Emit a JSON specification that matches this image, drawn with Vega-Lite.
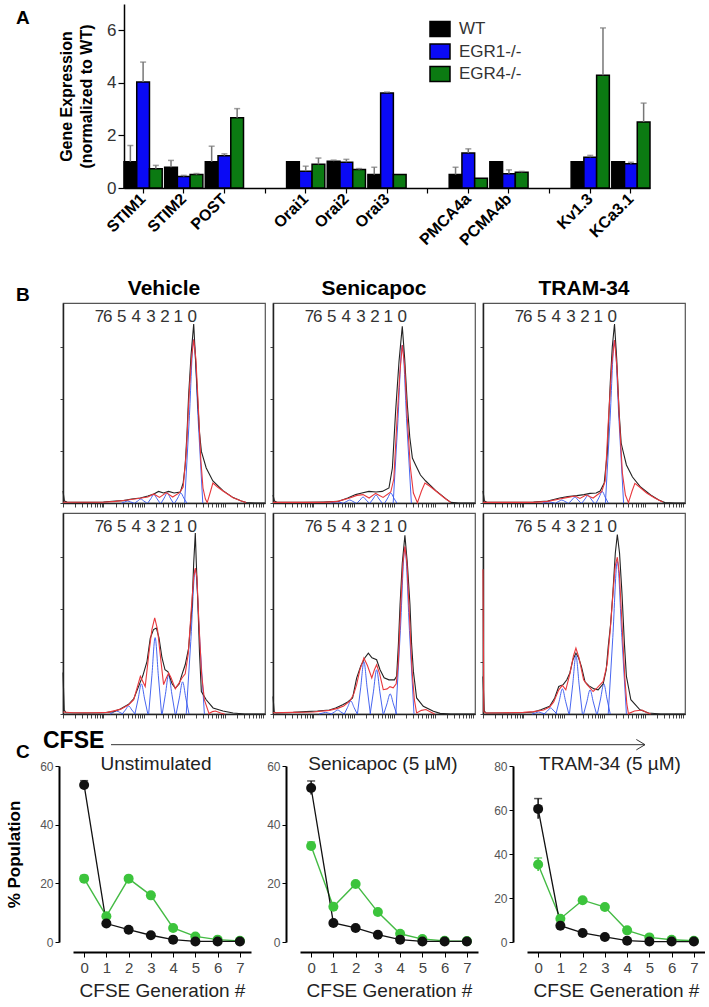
{
"$schema":"https://vega.github.io/schema/vega-lite/v6.json",
"background":"white",
"padding":{"left":5,"top":4,"right":0,"bottom":0},
"autosize":{"type":"pad"},
"spacing":0,
"bounds":"flush",
"config":{"font":"Liberation Sans","view":{"stroke":null},"axis":{"labelFont":"Liberation Sans","titleFont":"Liberation Sans"},"title":{"font":"Liberation Sans"}},
"datasets":{
"expr":[
{"gene":"STIM1","grp":"WT","v":1.0,"e":1.62},{"gene":"STIM1","grp":"EGR1-/-","v":4.03,"e":4.79},{"gene":"STIM1","grp":"EGR4-/-","v":0.73,"e":0.86},
{"gene":"STIM2","grp":"WT","v":0.79,"e":1.05},{"gene":"STIM2","grp":"EGR1-/-","v":0.44,"e":0.48},{"gene":"STIM2","grp":"EGR4-/-","v":0.51,"e":0.55},
{"gene":"POST","grp":"WT","v":1.0,"e":1.59},{"gene":"POST","grp":"EGR1-/-","v":1.23,"e":1.3},{"gene":"POST","grp":"EGR4-/-","v":2.67,"e":3.02},
{"gene":"Orai1","grp":"WT","v":1.0},{"gene":"Orai1","grp":"EGR1-/-","v":0.64,"e":0.83},{"gene":"Orai1","grp":"EGR4-/-","v":0.9,"e":1.14},
{"gene":"Orai2","grp":"WT","v":1.02,"e":1.06},{"gene":"Orai2","grp":"EGR1-/-","v":0.98,"e":1.09},{"gene":"Orai2","grp":"EGR4-/-","v":0.7,"e":0.74},
{"gene":"Orai3","grp":"WT","v":0.51,"e":0.79},{"gene":"Orai3","grp":"EGR1-/-","v":3.61,"e":3.65},{"gene":"Orai3","grp":"EGR4-/-","v":0.51},
{"gene":"PMCA4a","grp":"WT","v":0.51,"e":0.79},{"gene":"PMCA4a","grp":"EGR1-/-","v":1.33,"e":1.49},{"gene":"PMCA4a","grp":"EGR4-/-","v":0.37},
{"gene":"PCMA4b","grp":"WT","v":1.0},{"gene":"PCMA4b","grp":"EGR1-/-","v":0.54,"e":0.69},{"gene":"PCMA4b","grp":"EGR4-/-","v":0.6,"e":0.63},
{"gene":"Kv1.3","grp":"WT","v":1.0},{"gene":"Kv1.3","grp":"EGR1-/-","v":1.17,"e":1.24},{"gene":"Kv1.3","grp":"EGR4-/-","v":4.29,"e":6.09},
{"gene":"KCa3.1","grp":"WT","v":1.0},{"gene":"KCa3.1","grp":"EGR1-/-","v":0.92,"e":0.98},{"gene":"KCa3.1","grp":"EGR4-/-","v":2.51,"e":3.23}
],
"gens":[{"g":"7","x":18},{"g":"6","x":22.2},{"g":"5","x":29.1},{"g":"4","x":36.2},{"g":"3","x":43.5},{"g":"2","x":50.5},{"g":"1","x":57},{"g":"0","x":64}],
"hist":[
{"p":"V1","c":"k","x":0,"y":6},{"p":"V1","c":"k","x":0.7,"y":1},{"p":"V1","c":"k","x":2,"y":0.5},{"p":"V1","c":"k","x":10,"y":0.3},{"p":"V1","c":"k","x":20,"y":0.5},{"p":"V1","c":"k","x":26,"y":1},{"p":"V1","c":"k","x":30,"y":1.2},{"p":"V1","c":"k","x":34,"y":2},{"p":"V1","c":"k","x":38.3,"y":2.5},{"p":"V1","c":"k","x":42,"y":3.5},{"p":"V1","c":"k","x":45,"y":4.5},{"p":"V1","c":"k","x":47.3,"y":5.8},{"p":"V1","c":"k","x":49.8,"y":5},{"p":"V1","c":"k","x":52.3,"y":5.8},{"p":"V1","c":"k","x":55,"y":5},{"p":"V1","c":"k","x":58.1,"y":5.5},{"p":"V1","c":"k","x":59.5,"y":10},{"p":"V1","c":"k","x":60.5,"y":19},{"p":"V1","c":"k","x":61.4,"y":35},{"p":"V1","c":"k","x":62.2,"y":54},{"p":"V1","c":"k","x":63.4,"y":74},{"p":"V1","c":"k","x":64.7,"y":89.5},{"p":"V1","c":"k","x":65.6,"y":72},{"p":"V1","c":"k","x":66.8,"y":49},{"p":"V1","c":"k","x":67.6,"y":35},{"p":"V1","c":"k","x":68.5,"y":25.8},{"p":"V1","c":"k","x":70.9,"y":17.5},{"p":"V1","c":"k","x":74.2,"y":11},{"p":"V1","c":"k","x":79.2,"y":6.2},{"p":"V1","c":"k","x":84.2,"y":2.7},{"p":"V1","c":"k","x":88.3,"y":1},{"p":"V1","c":"k","x":90.7,"y":0.2},{"p":"V1","c":"k","x":95,"y":0},{"p":"V1","c":"k","x":100,"y":0},
{"p":"V1","c":"r","x":0,"y":0.4},{"p":"V1","c":"r","x":20,"y":0.4},{"p":"V1","c":"r","x":26,"y":0.8},{"p":"V1","c":"r","x":32,"y":1.5},{"p":"V1","c":"r","x":38,"y":2.4},{"p":"V1","c":"r","x":42,"y":3},{"p":"V1","c":"r","x":44.9,"y":4.5},{"p":"V1","c":"r","x":47.8,"y":2.8},{"p":"V1","c":"r","x":51.1,"y":5.2},{"p":"V1","c":"r","x":54.3,"y":3},{"p":"V1","c":"r","x":57.7,"y":5.2},{"p":"V1","c":"r","x":59.5,"y":8},{"p":"V1","c":"r","x":61,"y":25},{"p":"V1","c":"r","x":62.5,"y":55},{"p":"V1","c":"r","x":63.6,"y":72},{"p":"V1","c":"r","x":64.7,"y":81.7},{"p":"V1","c":"r","x":65.8,"y":72},{"p":"V1","c":"r","x":67,"y":48},{"p":"V1","c":"r","x":68.2,"y":22},{"p":"V1","c":"r","x":69.3,"y":7.5},{"p":"V1","c":"r","x":70.5,"y":2},{"p":"V1","c":"r","x":71.4,"y":0.2},{"p":"V1","c":"r","x":72.8,"y":5},{"p":"V1","c":"r","x":74.2,"y":10},{"p":"V1","c":"r","x":76.5,"y":8},{"p":"V1","c":"r","x":79.2,"y":6},{"p":"V1","c":"r","x":84.2,"y":2.6},{"p":"V1","c":"r","x":88.3,"y":1},{"p":"V1","c":"r","x":90.7,"y":0.2},
{"p":"V1","c":"b0","x":60.2,"y":0},{"p":"V1","c":"b0","x":62.45,"y":40.9},{"p":"V1","c":"b0","x":64.7,"y":81.7},{"p":"V1","c":"b0","x":66.95,"y":40.9},{"p":"V1","c":"b0","x":69.2,"y":0},
{"p":"V1","c":"b1","x":55.3,"y":0},{"p":"V1","c":"b1","x":56.8,"y":2.5},{"p":"V1","c":"b1","x":58.3,"y":5},{"p":"V1","c":"b1","x":59.8,"y":2.5},{"p":"V1","c":"b1","x":61.3,"y":0},
{"p":"V1","c":"b2","x":48.6,"y":0},{"p":"V1","c":"b2","x":50.1,"y":2.5},{"p":"V1","c":"b2","x":51.6,"y":5},{"p":"V1","c":"b2","x":53.1,"y":2.5},{"p":"V1","c":"b2","x":54.6,"y":0},
{"p":"V1","c":"b3","x":42,"y":0},{"p":"V1","c":"b3","x":43.5,"y":2.2},{"p":"V1","c":"b3","x":45,"y":4.3},{"p":"V1","c":"b3","x":46.5,"y":2.2},{"p":"V1","c":"b3","x":48,"y":0},
{"p":"V1","c":"b4","x":35.5,"y":0},{"p":"V1","c":"b4","x":37,"y":1},{"p":"V1","c":"b4","x":38.5,"y":2},{"p":"V1","c":"b4","x":40,"y":1},{"p":"V1","c":"b4","x":41.5,"y":0},
{"p":"V1","c":"b5","x":29,"y":0},{"p":"V1","c":"b5","x":30.5,"y":0.5},{"p":"V1","c":"b5","x":32,"y":1},{"p":"V1","c":"b5","x":33.5,"y":0.5},{"p":"V1","c":"b5","x":35,"y":0},

{"p":"S1","c":"k","x":0,"y":4},{"p":"S1","c":"k","x":0.7,"y":1},{"p":"S1","c":"k","x":2,"y":0.4},{"p":"S1","c":"k","x":15,"y":0.3},{"p":"S1","c":"k","x":25,"y":0.5},{"p":"S1","c":"k","x":32.2,"y":0.8},{"p":"S1","c":"k","x":37,"y":2.5},{"p":"S1","c":"k","x":40.9,"y":4.2},{"p":"S1","c":"k","x":44,"y":5},{"p":"S1","c":"k","x":47.5,"y":5.8},{"p":"S1","c":"k","x":51,"y":5.5},{"p":"S1","c":"k","x":54.1,"y":5.8},{"p":"S1","c":"k","x":57.4,"y":7.5},{"p":"S1","c":"k","x":59.1,"y":17.5},{"p":"S1","c":"k","x":60.7,"y":45.8},{"p":"S1","c":"k","x":62.4,"y":71},{"p":"S1","c":"k","x":64,"y":88.3},{"p":"S1","c":"k","x":65.2,"y":72},{"p":"S1","c":"k","x":66.5,"y":49},{"p":"S1","c":"k","x":67.7,"y":33},{"p":"S1","c":"k","x":69,"y":22.5},{"p":"S1","c":"k","x":70.6,"y":19},{"p":"S1","c":"k","x":73,"y":14},{"p":"S1","c":"k","x":75.6,"y":11},{"p":"S1","c":"k","x":80.6,"y":6.2},{"p":"S1","c":"k","x":85.5,"y":2.2},{"p":"S1","c":"k","x":88,"y":0.3},{"p":"S1","c":"k","x":92,"y":0},{"p":"S1","c":"k","x":100,"y":0},
{"p":"S1","c":"r","x":0,"y":0.3},{"p":"S1","c":"r","x":25,"y":0.3},{"p":"S1","c":"r","x":32,"y":0.8},{"p":"S1","c":"r","x":38,"y":2.5},{"p":"S1","c":"r","x":41.5,"y":3.8},{"p":"S1","c":"r","x":44.6,"y":4.2},{"p":"S1","c":"r","x":47.6,"y":2.5},{"p":"S1","c":"r","x":50.8,"y":4.8},{"p":"S1","c":"r","x":54.5,"y":2.8},{"p":"S1","c":"r","x":58.3,"y":5.5},{"p":"S1","c":"r","x":59.8,"y":12},{"p":"S1","c":"r","x":61.3,"y":40},{"p":"S1","c":"r","x":62.8,"y":65},{"p":"S1","c":"r","x":64,"y":79},{"p":"S1","c":"r","x":65.2,"y":68},{"p":"S1","c":"r","x":66.5,"y":42},{"p":"S1","c":"r","x":68,"y":18},{"p":"S1","c":"r","x":69.5,"y":5},{"p":"S1","c":"r","x":71.5,"y":0.2},{"p":"S1","c":"r","x":73.5,"y":6},{"p":"S1","c":"r","x":75.2,"y":10},{"p":"S1","c":"r","x":77.5,"y":8.5},{"p":"S1","c":"r","x":80.6,"y":6},{"p":"S1","c":"r","x":85.5,"y":2},{"p":"S1","c":"r","x":88,"y":0.3},
{"p":"S1","c":"b0","x":59.5,"y":0},{"p":"S1","c":"b0","x":61.75,"y":39.5},{"p":"S1","c":"b0","x":64,"y":79},{"p":"S1","c":"b0","x":66.25,"y":39.5},{"p":"S1","c":"b0","x":68.5,"y":0},
{"p":"S1","c":"b1","x":55.3,"y":0},{"p":"S1","c":"b1","x":56.8,"y":2.5},{"p":"S1","c":"b1","x":58.3,"y":5},{"p":"S1","c":"b1","x":59.8,"y":2.5},{"p":"S1","c":"b1","x":61.3,"y":0},
{"p":"S1","c":"b2","x":48,"y":0},{"p":"S1","c":"b2","x":49.5,"y":2},{"p":"S1","c":"b2","x":51,"y":4},{"p":"S1","c":"b2","x":52.5,"y":2},{"p":"S1","c":"b2","x":54,"y":0},
{"p":"S1","c":"b3","x":41.6,"y":0},{"p":"S1","c":"b3","x":43.1,"y":1.5},{"p":"S1","c":"b3","x":44.6,"y":3},{"p":"S1","c":"b3","x":46.1,"y":1.5},{"p":"S1","c":"b3","x":47.6,"y":0},
{"p":"S1","c":"b4","x":35,"y":0},{"p":"S1","c":"b4","x":36.5,"y":0.8},{"p":"S1","c":"b4","x":38,"y":1.5},{"p":"S1","c":"b4","x":39.5,"y":0.8},{"p":"S1","c":"b4","x":41,"y":0},
{"p":"S1","c":"b5","x":28.5,"y":0},{"p":"S1","c":"b5","x":30,"y":0.3},{"p":"S1","c":"b5","x":31.5,"y":0.6},{"p":"S1","c":"b5","x":33,"y":0.3},{"p":"S1","c":"b5","x":34.5,"y":0},

{"p":"T1","c":"k","x":0,"y":6},{"p":"T1","c":"k","x":0.7,"y":1},{"p":"T1","c":"k","x":2,"y":0.4},{"p":"T1","c":"k","x":15,"y":0.3},{"p":"T1","c":"k","x":25,"y":0.5},{"p":"T1","c":"k","x":32,"y":1},{"p":"T1","c":"k","x":38,"y":2.5},{"p":"T1","c":"k","x":42,"y":3.2},{"p":"T1","c":"k","x":46.5,"y":3.7},{"p":"T1","c":"k","x":50,"y":4.2},{"p":"T1","c":"k","x":53,"y":4.8},{"p":"T1","c":"k","x":56,"y":5},{"p":"T1","c":"k","x":58,"y":6},{"p":"T1","c":"k","x":60,"y":10},{"p":"T1","c":"k","x":61.5,"y":25},{"p":"T1","c":"k","x":63,"y":60},{"p":"T1","c":"k","x":64,"y":78},{"p":"T1","c":"k","x":65.1,"y":89.5},{"p":"T1","c":"k","x":66.2,"y":72},{"p":"T1","c":"k","x":67.4,"y":45},{"p":"T1","c":"k","x":68.4,"y":30},{"p":"T1","c":"k","x":69.2,"y":26.5},{"p":"T1","c":"k","x":71,"y":19},{"p":"T1","c":"k","x":74,"y":13},{"p":"T1","c":"k","x":78,"y":8},{"p":"T1","c":"k","x":83,"y":4},{"p":"T1","c":"k","x":87,"y":1.5},{"p":"T1","c":"k","x":90,"y":0.2},{"p":"T1","c":"k","x":95,"y":0},{"p":"T1","c":"k","x":100,"y":0},
{"p":"T1","c":"r","x":0,"y":0.3},{"p":"T1","c":"r","x":25,"y":0.3},{"p":"T1","c":"r","x":32,"y":0.8},{"p":"T1","c":"r","x":38,"y":2},{"p":"T1","c":"r","x":42,"y":2.8},{"p":"T1","c":"r","x":45.5,"y":3.5},{"p":"T1","c":"r","x":48,"y":2.3},{"p":"T1","c":"r","x":51,"y":4},{"p":"T1","c":"r","x":54.5,"y":2.5},{"p":"T1","c":"r","x":58.8,"y":5.8},{"p":"T1","c":"r","x":60.5,"y":11},{"p":"T1","c":"r","x":62,"y":40},{"p":"T1","c":"r","x":63.8,"y":70},{"p":"T1","c":"r","x":65.1,"y":81.5},{"p":"T1","c":"r","x":66.3,"y":68},{"p":"T1","c":"r","x":67.6,"y":40},{"p":"T1","c":"r","x":69,"y":15},{"p":"T1","c":"r","x":70.5,"y":4},{"p":"T1","c":"r","x":72,"y":0.2},{"p":"T1","c":"r","x":73.8,"y":6},{"p":"T1","c":"r","x":75.2,"y":9.8},{"p":"T1","c":"r","x":77.5,"y":8},{"p":"T1","c":"r","x":81,"y":5},{"p":"T1","c":"r","x":85,"y":2.5},{"p":"T1","c":"r","x":89,"y":0.5},
{"p":"T1","c":"b0","x":60.6,"y":0},{"p":"T1","c":"b0","x":62.85,"y":40.8},{"p":"T1","c":"b0","x":65.1,"y":81.5},{"p":"T1","c":"b0","x":67.35,"y":40.8},{"p":"T1","c":"b0","x":69.6,"y":0},
{"p":"T1","c":"b1","x":56,"y":0},{"p":"T1","c":"b1","x":57.5,"y":2.9},{"p":"T1","c":"b1","x":59,"y":5.8},{"p":"T1","c":"b1","x":60.5,"y":2.9},{"p":"T1","c":"b1","x":62,"y":0},
{"p":"T1","c":"b2","x":49,"y":0},{"p":"T1","c":"b2","x":50.5,"y":2},{"p":"T1","c":"b2","x":52,"y":4},{"p":"T1","c":"b2","x":53.5,"y":2},{"p":"T1","c":"b2","x":55,"y":0},
{"p":"T1","c":"b3","x":42.5,"y":0},{"p":"T1","c":"b3","x":44,"y":1.5},{"p":"T1","c":"b3","x":45.5,"y":3},{"p":"T1","c":"b3","x":47,"y":1.5},{"p":"T1","c":"b3","x":48.5,"y":0},
{"p":"T1","c":"b4","x":36,"y":0},{"p":"T1","c":"b4","x":37.5,"y":0.8},{"p":"T1","c":"b4","x":39,"y":1.5},{"p":"T1","c":"b4","x":40.5,"y":0.8},{"p":"T1","c":"b4","x":42,"y":0},
{"p":"T1","c":"b5","x":29.5,"y":0},{"p":"T1","c":"b5","x":31,"y":0.3},{"p":"T1","c":"b5","x":32.5,"y":0.6},{"p":"T1","c":"b5","x":34,"y":0.3},{"p":"T1","c":"b5","x":35.5,"y":0},

{"p":"V2","c":"k","x":0,"y":20.6},{"p":"V2","c":"k","x":0.6,"y":2},{"p":"V2","c":"k","x":1.5,"y":0.6},{"p":"V2","c":"k","x":10,"y":0.5},{"p":"V2","c":"k","x":20,"y":0.6},{"p":"V2","c":"k","x":25,"y":1.2},{"p":"V2","c":"k","x":28.4,"y":2.5},{"p":"V2","c":"k","x":32.5,"y":4.8},{"p":"V2","c":"k","x":35,"y":7.5},{"p":"V2","c":"k","x":38.3,"y":16},{"p":"V2","c":"k","x":39.5,"y":19},{"p":"V2","c":"k","x":41.6,"y":26.2},{"p":"V2","c":"k","x":43.2,"y":37.8},{"p":"V2","c":"k","x":44.8,"y":42},{"p":"V2","c":"k","x":46.2,"y":42.8},{"p":"V2","c":"k","x":47.5,"y":38},{"p":"V2","c":"k","x":49,"y":28},{"p":"V2","c":"k","x":50.5,"y":22},{"p":"V2","c":"k","x":52,"y":21},{"p":"V2","c":"k","x":54,"y":15},{"p":"V2","c":"k","x":55.6,"y":12.9},{"p":"V2","c":"k","x":57.5,"y":15},{"p":"V2","c":"k","x":59,"y":20},{"p":"V2","c":"k","x":60.5,"y":24.5},{"p":"V2","c":"k","x":62.2,"y":32.8},{"p":"V2","c":"k","x":63.9,"y":54.4},{"p":"V2","c":"k","x":64.7,"y":75},{"p":"V2","c":"k","x":65.5,"y":90},{"p":"V2","c":"k","x":66,"y":75},{"p":"V2","c":"k","x":66.8,"y":54.4},{"p":"V2","c":"k","x":67.6,"y":30},{"p":"V2","c":"k","x":68.5,"y":11.2},{"p":"V2","c":"k","x":70.9,"y":7.1},{"p":"V2","c":"k","x":74.3,"y":3},{"p":"V2","c":"k","x":79.2,"y":1.5},{"p":"V2","c":"k","x":84.2,"y":0.5},{"p":"V2","c":"k","x":90,"y":0},{"p":"V2","c":"k","x":100,"y":0},
{"p":"V2","c":"r","x":0,"y":1},{"p":"V2","c":"r","x":5,"y":0.6},{"p":"V2","c":"r","x":15,"y":0.6},{"p":"V2","c":"r","x":22,"y":0.8},{"p":"V2","c":"r","x":28.4,"y":2.3},{"p":"V2","c":"r","x":32.5,"y":4.6},{"p":"V2","c":"r","x":35,"y":7.1},{"p":"V2","c":"r","x":38.3,"y":18.7},{"p":"V2","c":"r","x":40.7,"y":13.7},{"p":"V2","c":"r","x":42.5,"y":30},{"p":"V2","c":"r","x":44,"y":42},{"p":"V2","c":"r","x":45.4,"y":47.8},{"p":"V2","c":"r","x":46.8,"y":42},{"p":"V2","c":"r","x":48.3,"y":28},{"p":"V2","c":"r","x":49.8,"y":14.6},{"p":"V2","c":"r","x":51.2,"y":18},{"p":"V2","c":"r","x":52.3,"y":20.4},{"p":"V2","c":"r","x":53.5,"y":18},{"p":"V2","c":"r","x":55.6,"y":12.5},{"p":"V2","c":"r","x":57.5,"y":15.5},{"p":"V2","c":"r","x":58.9,"y":17.9},{"p":"V2","c":"r","x":60.5,"y":20},{"p":"V2","c":"r","x":62,"y":30},{"p":"V2","c":"r","x":63.5,"y":52},{"p":"V2","c":"r","x":64.7,"y":68},{"p":"V2","c":"r","x":65.5,"y":72.6},{"p":"V2","c":"r","x":66.3,"y":68},{"p":"V2","c":"r","x":67.3,"y":45},{"p":"V2","c":"r","x":68.6,"y":20},{"p":"V2","c":"r","x":70,"y":7},{"p":"V2","c":"r","x":72.3,"y":0.2},{"p":"V2","c":"r","x":74,"y":1.2},{"p":"V2","c":"r","x":75.5,"y":1.5},{"p":"V2","c":"r","x":78,"y":0.5},{"p":"V2","c":"r","x":80,"y":0},
{"p":"V2","c":"b0","x":61,"y":0},{"p":"V2","c":"b0","x":63.25,"y":36},{"p":"V2","c":"b0","x":65.5,"y":72},{"p":"V2","c":"b0","x":67.75,"y":36},{"p":"V2","c":"b0","x":70,"y":0},
{"p":"V2","c":"b1","x":56,"y":0},{"p":"V2","c":"b1","x":57.6,"y":8},{"p":"V2","c":"b1","x":59.2,"y":16},{"p":"V2","c":"b1","x":60.8,"y":8},{"p":"V2","c":"b1","x":62.4,"y":0},
{"p":"V2","c":"b2","x":49.1,"y":0},{"p":"V2","c":"b2","x":50.7,"y":9.8},{"p":"V2","c":"b2","x":52.3,"y":19.5},{"p":"V2","c":"b2","x":53.9,"y":9.8},{"p":"V2","c":"b2","x":55.5,"y":0},
{"p":"V2","c":"b3","x":42.4,"y":0},{"p":"V2","c":"b3","x":44,"y":19},{"p":"V2","c":"b3","x":45.6,"y":38},{"p":"V2","c":"b3","x":47.2,"y":19},{"p":"V2","c":"b3","x":48.8,"y":0},
{"p":"V2","c":"b4","x":35.6,"y":0},{"p":"V2","c":"b4","x":37.2,"y":7.5},{"p":"V2","c":"b4","x":38.8,"y":15},{"p":"V2","c":"b4","x":40.4,"y":7.5},{"p":"V2","c":"b4","x":42,"y":0},
{"p":"V2","c":"b5","x":29.3,"y":0},{"p":"V2","c":"b5","x":30.9,"y":2},{"p":"V2","c":"b5","x":32.5,"y":4},{"p":"V2","c":"b5","x":34.1,"y":2},{"p":"V2","c":"b5","x":35.7,"y":0},
{"p":"V2","c":"b6","x":23.3,"y":0},{"p":"V2","c":"b6","x":24.9,"y":0.8},{"p":"V2","c":"b6","x":26.5,"y":1.5},{"p":"V2","c":"b6","x":28.1,"y":0.8},{"p":"V2","c":"b6","x":29.7,"y":0},

{"p":"S2","c":"k","x":0,"y":8.7},{"p":"S2","c":"k","x":0.6,"y":1},{"p":"S2","c":"k","x":1.5,"y":0.5},{"p":"S2","c":"k","x":10,"y":0.8},{"p":"S2","c":"k","x":16.3,"y":1.2},{"p":"S2","c":"k","x":22,"y":1.5},{"p":"S2","c":"k","x":27.9,"y":2},{"p":"S2","c":"k","x":31,"y":3},{"p":"S2","c":"k","x":34.5,"y":4.6},{"p":"S2","c":"k","x":37,"y":6},{"p":"S2","c":"k","x":39.4,"y":8},{"p":"S2","c":"k","x":41.4,"y":17.9},{"p":"S2","c":"k","x":43.5,"y":24},{"p":"S2","c":"k","x":45.5,"y":28},{"p":"S2","c":"k","x":47.2,"y":30.3},{"p":"S2","c":"k","x":49,"y":28},{"p":"S2","c":"k","x":51.3,"y":27},{"p":"S2","c":"k","x":53,"y":22},{"p":"S2","c":"k","x":55,"y":18},{"p":"S2","c":"k","x":57.4,"y":17},{"p":"S2","c":"k","x":60.1,"y":17},{"p":"S2","c":"k","x":61.2,"y":18.7},{"p":"S2","c":"k","x":62.1,"y":35},{"p":"S2","c":"k","x":62.9,"y":54.4},{"p":"S2","c":"k","x":64,"y":75},{"p":"S2","c":"k","x":65.3,"y":88.9},{"p":"S2","c":"k","x":66.5,"y":75},{"p":"S2","c":"k","x":67.8,"y":54.4},{"p":"S2","c":"k","x":68.6,"y":35},{"p":"S2","c":"k","x":69.5,"y":21.2},{"p":"S2","c":"k","x":71.1,"y":8},{"p":"S2","c":"k","x":74.4,"y":3.8},{"p":"S2","c":"k","x":79.4,"y":1.4},{"p":"S2","c":"k","x":82.7,"y":0.3},{"p":"S2","c":"k","x":88,"y":0},{"p":"S2","c":"k","x":100,"y":0},
{"p":"S2","c":"r","x":0,"y":0.6},{"p":"S2","c":"r","x":10,"y":0.8},{"p":"S2","c":"r","x":20,"y":1},{"p":"S2","c":"r","x":27.9,"y":1.8},{"p":"S2","c":"r","x":32,"y":2.8},{"p":"S2","c":"r","x":35,"y":4},{"p":"S2","c":"r","x":38.1,"y":6.5},{"p":"S2","c":"r","x":40,"y":10},{"p":"S2","c":"r","x":41.4,"y":14.6},{"p":"S2","c":"r","x":43,"y":22},{"p":"S2","c":"r","x":45,"y":27.9},{"p":"S2","c":"r","x":46.8,"y":24},{"p":"S2","c":"r","x":48.9,"y":17.9},{"p":"S2","c":"r","x":50.2,"y":22},{"p":"S2","c":"r","x":51.3,"y":24.5},{"p":"S2","c":"r","x":52.8,"y":20},{"p":"S2","c":"r","x":54.6,"y":12.1},{"p":"S2","c":"r","x":56.5,"y":12.5},{"p":"S2","c":"r","x":57.9,"y":13.6},{"p":"S2","c":"r","x":59.5,"y":13},{"p":"S2","c":"r","x":61,"y":15},{"p":"S2","c":"r","x":62,"y":25},{"p":"S2","c":"r","x":63.3,"y":55},{"p":"S2","c":"r","x":64.3,"y":75},{"p":"S2","c":"r","x":65.3,"y":83.4},{"p":"S2","c":"r","x":66.3,"y":75},{"p":"S2","c":"r","x":67.5,"y":50},{"p":"S2","c":"r","x":68.8,"y":22},{"p":"S2","c":"r","x":70,"y":7},{"p":"S2","c":"r","x":71.1,"y":0.5},{"p":"S2","c":"r","x":73.5,"y":1.8},{"p":"S2","c":"r","x":75.7,"y":2.2},{"p":"S2","c":"r","x":78,"y":1},{"p":"S2","c":"r","x":80,"y":0},
{"p":"S2","c":"b0","x":60.8,"y":0},{"p":"S2","c":"b0","x":63.05,"y":41.5},{"p":"S2","c":"b0","x":65.3,"y":83},{"p":"S2","c":"b0","x":67.55,"y":41.5},{"p":"S2","c":"b0","x":69.8,"y":0},
{"p":"S2","c":"b1","x":54.8,"y":0},{"p":"S2","c":"b1","x":56.4,"y":5},{"p":"S2","c":"b1","x":58,"y":10},{"p":"S2","c":"b1","x":59.6,"y":5},{"p":"S2","c":"b1","x":61.2,"y":0},
{"p":"S2","c":"b2","x":48.1,"y":0},{"p":"S2","c":"b2","x":49.7,"y":11},{"p":"S2","c":"b2","x":51.3,"y":22},{"p":"S2","c":"b2","x":52.9,"y":11},{"p":"S2","c":"b2","x":54.5,"y":0},
{"p":"S2","c":"b3","x":41.8,"y":0},{"p":"S2","c":"b3","x":43.4,"y":13},{"p":"S2","c":"b3","x":45,"y":26},{"p":"S2","c":"b3","x":46.6,"y":13},{"p":"S2","c":"b3","x":48.2,"y":0},
{"p":"S2","c":"b4","x":35.3,"y":0},{"p":"S2","c":"b4","x":36.9,"y":3.3},{"p":"S2","c":"b4","x":38.5,"y":6.5},{"p":"S2","c":"b4","x":40.1,"y":3.3},{"p":"S2","c":"b4","x":41.7,"y":0},
{"p":"S2","c":"b5","x":28.8,"y":0},{"p":"S2","c":"b5","x":30.4,"y":1},{"p":"S2","c":"b5","x":32,"y":2},{"p":"S2","c":"b5","x":33.6,"y":1},{"p":"S2","c":"b5","x":35.2,"y":0},
{"p":"S2","c":"b6","x":22.8,"y":0},{"p":"S2","c":"b6","x":24.4,"y":0.4},{"p":"S2","c":"b6","x":26,"y":0.8},{"p":"S2","c":"b6","x":27.6,"y":0.4},{"p":"S2","c":"b6","x":29.2,"y":0},

{"p":"T2","c":"k","x":0,"y":18.7},{"p":"T2","c":"k","x":0.6,"y":1.5},{"p":"T2","c":"k","x":1.5,"y":0.5},{"p":"T2","c":"k","x":10,"y":0.5},{"p":"T2","c":"k","x":20,"y":0.6},{"p":"T2","c":"k","x":25,"y":1},{"p":"T2","c":"k","x":28.6,"y":2.1},{"p":"T2","c":"k","x":33,"y":3.8},{"p":"T2","c":"k","x":35.5,"y":8},{"p":"T2","c":"k","x":37.5,"y":13.7},{"p":"T2","c":"k","x":39.7,"y":14.6},{"p":"T2","c":"k","x":41.5,"y":17},{"p":"T2","c":"k","x":43,"y":20.4},{"p":"T2","c":"k","x":44.5,"y":27},{"p":"T2","c":"k","x":46,"y":30.3},{"p":"T2","c":"k","x":47.3,"y":28},{"p":"T2","c":"k","x":48.7,"y":23.7},{"p":"T2","c":"k","x":50.5,"y":16},{"p":"T2","c":"k","x":52.5,"y":14},{"p":"T2","c":"k","x":55,"y":12.5},{"p":"T2","c":"k","x":57,"y":12},{"p":"T2","c":"k","x":59.5,"y":15},{"p":"T2","c":"k","x":61,"y":22},{"p":"T2","c":"k","x":62,"y":33.6},{"p":"T2","c":"k","x":63.2,"y":45},{"p":"T2","c":"k","x":64.3,"y":60.2},{"p":"T2","c":"k","x":65.5,"y":80},{"p":"T2","c":"k","x":66.5,"y":89.3},{"p":"T2","c":"k","x":67.6,"y":80},{"p":"T2","c":"k","x":68.8,"y":60},{"p":"T2","c":"k","x":70,"y":35},{"p":"T2","c":"k","x":71,"y":18.7},{"p":"T2","c":"k","x":73.2,"y":7.1},{"p":"T2","c":"k","x":77.7,"y":2.1},{"p":"T2","c":"k","x":82,"y":0.5},{"p":"T2","c":"k","x":88,"y":0},{"p":"T2","c":"k","x":100,"y":0},
{"p":"T2","c":"r","x":0,"y":72},{"p":"T2","c":"r","x":0.4,"y":1},{"p":"T2","c":"r","x":1.5,"y":0.5},{"p":"T2","c":"r","x":10,"y":0.6},{"p":"T2","c":"r","x":20,"y":0.8},{"p":"T2","c":"r","x":25,"y":1.2},{"p":"T2","c":"r","x":30,"y":2},{"p":"T2","c":"r","x":33,"y":3.5},{"p":"T2","c":"r","x":35,"y":6},{"p":"T2","c":"r","x":37.5,"y":12},{"p":"T2","c":"r","x":39.3,"y":14.2},{"p":"T2","c":"r","x":41,"y":12},{"p":"T2","c":"r","x":43,"y":20},{"p":"T2","c":"r","x":44.8,"y":29},{"p":"T2","c":"r","x":46,"y":32.8},{"p":"T2","c":"r","x":47.5,"y":28},{"p":"T2","c":"r","x":49.8,"y":17},{"p":"T2","c":"r","x":51.5,"y":14.6},{"p":"T2","c":"r","x":53,"y":13},{"p":"T2","c":"r","x":54.5,"y":11.2},{"p":"T2","c":"r","x":56.5,"y":13},{"p":"T2","c":"r","x":59.5,"y":16.2},{"p":"T2","c":"r","x":61.5,"y":25},{"p":"T2","c":"r","x":63,"y":42},{"p":"T2","c":"r","x":64.5,"y":62},{"p":"T2","c":"r","x":65.5,"y":74},{"p":"T2","c":"r","x":66.5,"y":78},{"p":"T2","c":"r","x":67.5,"y":70},{"p":"T2","c":"r","x":68.8,"y":45},{"p":"T2","c":"r","x":70.2,"y":18},{"p":"T2","c":"r","x":71.2,"y":5},{"p":"T2","c":"r","x":72,"y":0.2},{"p":"T2","c":"r","x":75,"y":1.5},{"p":"T2","c":"r","x":78.8,"y":2},{"p":"T2","c":"r","x":81,"y":0.8},{"p":"T2","c":"r","x":83,"y":0},
{"p":"T2","c":"b0","x":62,"y":0},{"p":"T2","c":"b0","x":64.25,"y":38},{"p":"T2","c":"b0","x":66.5,"y":76},{"p":"T2","c":"b0","x":68.75,"y":38},{"p":"T2","c":"b0","x":71,"y":0},
{"p":"T2","c":"b1","x":56.6,"y":0},{"p":"T2","c":"b1","x":58.2,"y":7.5},{"p":"T2","c":"b1","x":59.8,"y":15},{"p":"T2","c":"b1","x":61.4,"y":7.5},{"p":"T2","c":"b1","x":63,"y":0},
{"p":"T2","c":"b2","x":49.8,"y":0},{"p":"T2","c":"b2","x":51.4,"y":6},{"p":"T2","c":"b2","x":53,"y":12},{"p":"T2","c":"b2","x":54.6,"y":6},{"p":"T2","c":"b2","x":56.2,"y":0},
{"p":"T2","c":"b3","x":42.8,"y":0},{"p":"T2","c":"b3","x":44.4,"y":14.5},{"p":"T2","c":"b3","x":46,"y":29},{"p":"T2","c":"b3","x":47.6,"y":14.5},{"p":"T2","c":"b3","x":49.2,"y":0},
{"p":"T2","c":"b4","x":36.1,"y":0},{"p":"T2","c":"b4","x":37.7,"y":6.3},{"p":"T2","c":"b4","x":39.3,"y":12.5},{"p":"T2","c":"b4","x":40.9,"y":6.3},{"p":"T2","c":"b4","x":42.5,"y":0},
{"p":"T2","c":"b5","x":30.3,"y":0},{"p":"T2","c":"b5","x":31.9,"y":1.5},{"p":"T2","c":"b5","x":33.5,"y":3},{"p":"T2","c":"b5","x":35.1,"y":1.5},{"p":"T2","c":"b5","x":36.7,"y":0},
{"p":"T2","c":"b6","x":24.3,"y":0},{"p":"T2","c":"b6","x":25.9,"y":0.5},{"p":"T2","c":"b6","x":27.5,"y":1},{"p":"T2","c":"b6","x":29.1,"y":0.5},{"p":"T2","c":"b6","x":30.7,"y":0}
],
"cfse":[
{"p":"U","s":"S1","gen":0,"v":53.5},{"p":"U","s":"S1","gen":1,"v":6.3},{"p":"U","s":"S1","gen":2,"v":4.2},{"p":"U","s":"S1","gen":3,"v":2.3},{"p":"U","s":"S1","gen":4,"v":0.8},{"p":"U","s":"S1","gen":5,"v":0.2},{"p":"U","s":"S1","gen":6,"v":0.2},{"p":"U","s":"S1","gen":7,"v":0.2},
{"p":"U","s":"S2","gen":0,"v":21.6},{"p":"U","s":"S2","gen":1,"v":8.8},{"p":"U","s":"S2","gen":2,"v":21.6},{"p":"U","s":"S2","gen":3,"v":15.9},{"p":"U","s":"S2","gen":4,"v":4.8},{"p":"U","s":"S2","gen":5,"v":1.9},{"p":"U","s":"S2","gen":6,"v":0.8},{"p":"U","s":"S2","gen":7,"v":0.4},
{"p":"S","s":"S1","gen":0,"v":52.5},{"p":"S","s":"S1","gen":1,"v":6.5},{"p":"S","s":"S1","gen":2,"v":4.8},{"p":"S","s":"S1","gen":3,"v":2.5},{"p":"S","s":"S1","gen":4,"v":0.8},{"p":"S","s":"S1","gen":5,"v":0.2},{"p":"S","s":"S1","gen":6,"v":0.2},{"p":"S","s":"S1","gen":7,"v":0.2},
{"p":"S","s":"S2","gen":0,"v":32.7},{"p":"S","s":"S2","gen":1,"v":12},{"p":"S","s":"S2","gen":2,"v":19.8},{"p":"S","s":"S2","gen":3,"v":10.2},{"p":"S","s":"S2","gen":4,"v":2.8},{"p":"S","s":"S2","gen":5,"v":1},{"p":"S","s":"S2","gen":6,"v":0.4},{"p":"S","s":"S2","gen":7,"v":0.3},
{"p":"T","s":"S1","gen":0,"v":60.5},{"p":"T","s":"S1","gen":1,"v":7.4},{"p":"T","s":"S1","gen":2,"v":4.1},{"p":"T","s":"S1","gen":3,"v":2.3},{"p":"T","s":"S1","gen":4,"v":0.6},{"p":"T","s":"S1","gen":5,"v":0.2},{"p":"T","s":"S1","gen":6,"v":0.2},{"p":"T","s":"S1","gen":7,"v":0.2},
{"p":"T","s":"S2","gen":0,"v":35.2},{"p":"T","s":"S2","gen":1,"v":10.6},{"p":"T","s":"S2","gen":2,"v":19},{"p":"T","s":"S2","gen":3,"v":15.9},{"p":"T","s":"S2","gen":4,"v":5.3},{"p":"T","s":"S2","gen":5,"v":2.1},{"p":"T","s":"S2","gen":6,"v":1},{"p":"T","s":"S2","gen":7,"v":0.6}
],
"cfse_err":[
{"p":"U","s":"S1","gen":0,"lo":52,"hi":55},{"p":"U","s":"S2","gen":0,"lo":20.5,"hi":22.7},
{"p":"S","s":"S1","gen":0,"lo":50.3,"hi":54.9},{"p":"S","s":"S2","gen":0,"lo":31.3,"hi":34.1},
{"p":"T","s":"S1","gen":0,"lo":56,"hi":65.2},{"p":"T","s":"S2","gen":0,"lo":32.3,"hi":38.2}
]
},
"vconcat":[
{"hconcat":[
 {"width":81,"height":184,"data":{"values":[{}]},"mark":{"type":"point","opacity":0},"encoding":{},
  "title":{"text":"A","anchor":"start","frame":"group","fontSize":19,"fontWeight":"bold","color":"#000","baseline":"alphabetic","offset":0,"dx":-27,"dy":39}},
 {"width":526,"height":184,"data":{"name":"expr"},
  "encoding":{
   "x":{"field":"gene","type":"nominal","scale":{"domain":["STIM1","STIM2","POST","_1","Orai1","Orai2","Orai3","_2","PMCA4a","PCMA4b","_3","Kv1.3","KCa3.1"],"paddingInner":0.06,"paddingOuter":0},
        "axis":{"title":null,"labelAngle":-45,"labelAlign":"right","labelBaseline":"middle","labelFontSize":16,"labelFontWeight":"bold","labelColor":"#000","labelPadding":3,"labelExpr":"indexof(datum.value,'_')==0 ? '' : datum.value","labelOverlap":false,"labelBound":false,"tickColor":"#000","tickSize":5,"tickWidth":1.2,"domainColor":"#000","domainWidth":1.5,"grid":false}},
   "xOffset":{"field":"grp","type":"nominal","scale":{"domain":["WT","EGR1-/-","EGR4-/-"],"paddingInner":0,"paddingOuter":0}}
  },
  "layer":[
   {"mark":{"type":"bar","stroke":"#000","strokeWidth":1.5},
    "encoding":{
     "y":{"field":"v","type":"quantitative","scale":{"domain":[0,7],"nice":false},
          "axis":{"title":["Gene Expression","(normalized to WT)"],"titleFontSize":16,"titleFontWeight":"bold","titleColor":"#000","titleLineHeight":20,"titlePadding":12,"values":[0,2,4,6],"labelFontSize":17,"labelColor":"#333","labelPadding":2,"tickSize":6,"tickColor":"#000","tickWidth":1.2,"domainColor":"#000","domainWidth":1.5,"grid":false}},
     "color":{"field":"grp","type":"nominal","scale":{"domain":["WT","EGR1-/-","EGR4-/-"],"range":["#000000","#0a0af5","#0b7a12"]},
       "legend":{"title":null,"orient":"none","legendX":386,"legendY":14,"symbolType":"M-1,-0.75H1V0.75H-1Z","symbolSize":400,"symbolStrokeColor":"#000","symbolStrokeWidth":1.5,"symbolOpacity":1,"labelFontSize":17,"labelColor":"#333","labelOffset":8,"rowPadding":0.5,"padding":0}}
    }},
   {"transform":[{"filter":"isValid(datum.e)"}],"mark":{"type":"rule","color":"#777","strokeWidth":1.5},
    "encoding":{"y":{"field":"v","type":"quantitative"},"y2":{"field":"e"}}},
   {"transform":[{"filter":"isValid(datum.e)"}],"mark":{"type":"tick","color":"#777","thickness":1.5,"size":6,"orient":"horizontal"},
    "encoding":{"y":{"field":"e","type":"quantitative"}}}
  ]}
],"spacing":0,"bounds":"flush"},
{"width":1,"height":299,"data":{"values":[{}]},"mark":{"type":"point","opacity":0},"encoding":{}},
{"hconcat":[
 {"width":12,"height":200,"data":{"values":[{}]},"mark":{"type":"point","opacity":0},"encoding":{},
  "title":{"text":"B","anchor":"start","frame":"group","fontSize":19,"fontWeight":"bold","color":"#000","baseline":"alphabetic","offset":3,"dx":-27,"dy":20}},
 {"width":202,"height":200,"title":{"text":"Vehicle","fontSize":21,"fontWeight":"bold","color":"#000","offset":4},"view":{"stroke":"#555","strokeWidth":1.2},
  "encoding":{"x":{"field":"x","type":"quantitative","scale":{"domain":[0,100],"nice":false,"zero":false},"axis":{"title":null,"labels":false,"grid":false,"tickSize":4,"tickColor":"#444","domainColor":"#222","domainWidth":1.5,"values":[0,6,9.5,12,14,15.6,16.9,18.1,19.1,20,26,29.5,32,34,35.6,36.9,38.1,39.1,40,46,49.5,52,54,55.6,56.9,58.1,59.1,60,66,69.5,72,74,75.6,76.9,78.1,79.1,80,86,89.5,92,94,95.6,96.9,98.1,99.1]}}},
  "layer":[
   {"data":{"name":"hist"},"transform":[{"filter":"datum.p=='V1' && indexof(datum.c,'b')==0"}],"mark":{"type":"line","color":"#3355ee","strokeWidth":0.9,"interpolate":"monotone"},"encoding":{"y":{"field":"y","type":"quantitative","scale":{"domain":[0,100],"nice":false},"axis":{"title":null,"labels":false,"grid":false,"tickSize":3,"tickColor":"#444","domainColor":"#222","domainWidth":1.5,"values":[0,6.5,13,19.5,26,32.5,39,45.5,52,58.5,65,71.5,78,84.5,91,97.5]}},"detail":{"field":"c"}}},
   {"data":{"name":"hist"},"transform":[{"filter":"datum.p=='V1' && datum.c=='k'"}],"mark":{"type":"line","color":"#222","strokeWidth":1.1},"encoding":{"y":{"field":"y","type":"quantitative"}}},
   {"data":{"name":"hist"},"transform":[{"filter":"datum.p=='V1' && datum.c=='r'"}],"mark":{"type":"line","color":"#e8383d","strokeWidth":1.1},"encoding":{"y":{"field":"y","type":"quantitative"}}},
   {"data":{"name":"gens"},"mark":{"type":"text","fontSize":17,"color":"#333","baseline":"middle"},"encoding":{"y":{"datum":93,"type":"quantitative"},"text":{"field":"g","type":"nominal"}}}
  ]},
 {"width":202,"height":200,"title":{"text":"Senicapoc","fontSize":21,"fontWeight":"bold","color":"#000","offset":4},"view":{"stroke":"#555","strokeWidth":1.2},
  "encoding":{"x":{"field":"x","type":"quantitative","scale":{"domain":[0,100],"nice":false,"zero":false},"axis":{"title":null,"labels":false,"grid":false,"tickSize":4,"tickColor":"#444","domainColor":"#222","domainWidth":1.5,"values":[0,6,9.5,12,14,15.6,16.9,18.1,19.1,20,26,29.5,32,34,35.6,36.9,38.1,39.1,40,46,49.5,52,54,55.6,56.9,58.1,59.1,60,66,69.5,72,74,75.6,76.9,78.1,79.1,80,86,89.5,92,94,95.6,96.9,98.1,99.1]}}},
  "layer":[
   {"data":{"name":"hist"},"transform":[{"filter":"datum.p=='S1' && indexof(datum.c,'b')==0"}],"mark":{"type":"line","color":"#3355ee","strokeWidth":0.9,"interpolate":"monotone"},"encoding":{"y":{"field":"y","type":"quantitative","scale":{"domain":[0,100],"nice":false},"axis":{"title":null,"labels":false,"grid":false,"tickSize":3,"tickColor":"#444","domainColor":"#222","domainWidth":1.5,"values":[0,6.5,13,19.5,26,32.5,39,45.5,52,58.5,65,71.5,78,84.5,91,97.5]}},"detail":{"field":"c"}}},
   {"data":{"name":"hist"},"transform":[{"filter":"datum.p=='S1' && datum.c=='k'"}],"mark":{"type":"line","color":"#222","strokeWidth":1.1},"encoding":{"y":{"field":"y","type":"quantitative"}}},
   {"data":{"name":"hist"},"transform":[{"filter":"datum.p=='S1' && datum.c=='r'"}],"mark":{"type":"line","color":"#e8383d","strokeWidth":1.1},"encoding":{"y":{"field":"y","type":"quantitative"}}},
   {"data":{"name":"gens"},"mark":{"type":"text","fontSize":17,"color":"#333","baseline":"middle"},"encoding":{"y":{"datum":93,"type":"quantitative"},"text":{"field":"g","type":"nominal"}}}
  ]},
 {"width":202,"height":200,"title":{"text":"TRAM-34","fontSize":21,"fontWeight":"bold","color":"#000","offset":4},"view":{"stroke":"#555","strokeWidth":1.2},
  "encoding":{"x":{"field":"x","type":"quantitative","scale":{"domain":[0,100],"nice":false,"zero":false},"axis":{"title":null,"labels":false,"grid":false,"tickSize":4,"tickColor":"#444","domainColor":"#222","domainWidth":1.5,"values":[0,6,9.5,12,14,15.6,16.9,18.1,19.1,20,26,29.5,32,34,35.6,36.9,38.1,39.1,40,46,49.5,52,54,55.6,56.9,58.1,59.1,60,66,69.5,72,74,75.6,76.9,78.1,79.1,80,86,89.5,92,94,95.6,96.9,98.1,99.1]}}},
  "layer":[
   {"data":{"name":"hist"},"transform":[{"filter":"datum.p=='T1' && indexof(datum.c,'b')==0"}],"mark":{"type":"line","color":"#3355ee","strokeWidth":0.9,"interpolate":"monotone"},"encoding":{"y":{"field":"y","type":"quantitative","scale":{"domain":[0,100],"nice":false},"axis":{"title":null,"labels":false,"grid":false,"tickSize":3,"tickColor":"#444","domainColor":"#222","domainWidth":1.5,"values":[0,6.5,13,19.5,26,32.5,39,45.5,52,58.5,65,71.5,78,84.5,91,97.5]}},"detail":{"field":"c"}}},
   {"data":{"name":"hist"},"transform":[{"filter":"datum.p=='T1' && datum.c=='k'"}],"mark":{"type":"line","color":"#222","strokeWidth":1.1},"encoding":{"y":{"field":"y","type":"quantitative"}}},
   {"data":{"name":"hist"},"transform":[{"filter":"datum.p=='T1' && datum.c=='r'"}],"mark":{"type":"line","color":"#e8383d","strokeWidth":1.1},"encoding":{"y":{"field":"y","type":"quantitative"}}},
   {"data":{"name":"gens"},"mark":{"type":"text","fontSize":17,"color":"#333","baseline":"middle"},"encoding":{"y":{"datum":93,"type":"quantitative"},"text":{"field":"g","type":"nominal"}}}
  ]}
],"spacing":8,"bounds":"flush"},
{"width":1,"height":210,"data":{"values":[{}]},"mark":{"type":"point","opacity":0},"encoding":{}},
{"hconcat":[
 {"width":12,"height":201,"data":{"values":[{}]},"mark":{"type":"point","opacity":0},"encoding":{}},
 {"width":202,"height":201,"view":{"stroke":"#555","strokeWidth":1.2},
  "encoding":{"x":{"field":"x","type":"quantitative","scale":{"domain":[0,100],"nice":false,"zero":false},"axis":{"title":null,"labels":false,"grid":false,"tickSize":4,"tickColor":"#444","domainColor":"#222","domainWidth":1.5,"values":[0,6,9.5,12,14,15.6,16.9,18.1,19.1,20,26,29.5,32,34,35.6,36.9,38.1,39.1,40,46,49.5,52,54,55.6,56.9,58.1,59.1,60,66,69.5,72,74,75.6,76.9,78.1,79.1,80,86,89.5,92,94,95.6,96.9,98.1,99.1]}}},
  "layer":[
   {"data":{"name":"hist"},"transform":[{"filter":"datum.p=='V2' && indexof(datum.c,'b')==0"}],"mark":{"type":"line","color":"#3355ee","strokeWidth":0.9,"interpolate":"monotone"},"encoding":{"y":{"field":"y","type":"quantitative","scale":{"domain":[0,100],"nice":false},"axis":{"title":null,"labels":false,"grid":false,"tickSize":3,"tickColor":"#444","domainColor":"#222","domainWidth":1.5,"values":[0,6.5,13,19.5,26,32.5,39,45.5,52,58.5,65,71.5,78,84.5,91,97.5]}},"detail":{"field":"c"}}},
   {"data":{"name":"hist"},"transform":[{"filter":"datum.p=='V2' && datum.c=='k'"}],"mark":{"type":"line","color":"#222","strokeWidth":1.1},"encoding":{"y":{"field":"y","type":"quantitative"}}},
   {"data":{"name":"hist"},"transform":[{"filter":"datum.p=='V2' && datum.c=='r'"}],"mark":{"type":"line","color":"#e8383d","strokeWidth":1.1},"encoding":{"y":{"field":"y","type":"quantitative"}}},
   {"data":{"name":"gens"},"mark":{"type":"text","fontSize":17,"color":"#333","baseline":"middle"},"encoding":{"y":{"datum":93,"type":"quantitative"},"text":{"field":"g","type":"nominal"}}}
  ]},
 {"width":202,"height":201,"view":{"stroke":"#555","strokeWidth":1.2},
  "encoding":{"x":{"field":"x","type":"quantitative","scale":{"domain":[0,100],"nice":false,"zero":false},"axis":{"title":null,"labels":false,"grid":false,"tickSize":4,"tickColor":"#444","domainColor":"#222","domainWidth":1.5,"values":[0,6,9.5,12,14,15.6,16.9,18.1,19.1,20,26,29.5,32,34,35.6,36.9,38.1,39.1,40,46,49.5,52,54,55.6,56.9,58.1,59.1,60,66,69.5,72,74,75.6,76.9,78.1,79.1,80,86,89.5,92,94,95.6,96.9,98.1,99.1]}}},
  "layer":[
   {"data":{"name":"hist"},"transform":[{"filter":"datum.p=='S2' && indexof(datum.c,'b')==0"}],"mark":{"type":"line","color":"#3355ee","strokeWidth":0.9,"interpolate":"monotone"},"encoding":{"y":{"field":"y","type":"quantitative","scale":{"domain":[0,100],"nice":false},"axis":{"title":null,"labels":false,"grid":false,"tickSize":3,"tickColor":"#444","domainColor":"#222","domainWidth":1.5,"values":[0,6.5,13,19.5,26,32.5,39,45.5,52,58.5,65,71.5,78,84.5,91,97.5]}},"detail":{"field":"c"}}},
   {"data":{"name":"hist"},"transform":[{"filter":"datum.p=='S2' && datum.c=='k'"}],"mark":{"type":"line","color":"#222","strokeWidth":1.1},"encoding":{"y":{"field":"y","type":"quantitative"}}},
   {"data":{"name":"hist"},"transform":[{"filter":"datum.p=='S2' && datum.c=='r'"}],"mark":{"type":"line","color":"#e8383d","strokeWidth":1.1},"encoding":{"y":{"field":"y","type":"quantitative"}}},
   {"data":{"name":"gens"},"mark":{"type":"text","fontSize":17,"color":"#333","baseline":"middle"},"encoding":{"y":{"datum":93,"type":"quantitative"},"text":{"field":"g","type":"nominal"}}}
  ]},
 {"width":202,"height":201,"view":{"stroke":"#555","strokeWidth":1.2},
  "encoding":{"x":{"field":"x","type":"quantitative","scale":{"domain":[0,100],"nice":false,"zero":false},"axis":{"title":null,"labels":false,"grid":false,"tickSize":4,"tickColor":"#444","domainColor":"#222","domainWidth":1.5,"values":[0,6,9.5,12,14,15.6,16.9,18.1,19.1,20,26,29.5,32,34,35.6,36.9,38.1,39.1,40,46,49.5,52,54,55.6,56.9,58.1,59.1,60,66,69.5,72,74,75.6,76.9,78.1,79.1,80,86,89.5,92,94,95.6,96.9,98.1,99.1]}}},
  "layer":[
   {"data":{"name":"hist"},"transform":[{"filter":"datum.p=='T2' && indexof(datum.c,'b')==0"}],"mark":{"type":"line","color":"#3355ee","strokeWidth":0.9,"interpolate":"monotone"},"encoding":{"y":{"field":"y","type":"quantitative","scale":{"domain":[0,100],"nice":false},"axis":{"title":null,"labels":false,"grid":false,"tickSize":3,"tickColor":"#444","domainColor":"#222","domainWidth":1.5,"values":[0,6.5,13,19.5,26,32.5,39,45.5,52,58.5,65,71.5,78,84.5,91,97.5]}},"detail":{"field":"c"}}},
   {"data":{"name":"hist"},"transform":[{"filter":"datum.p=='T2' && datum.c=='k'"}],"mark":{"type":"line","color":"#222","strokeWidth":1.1},"encoding":{"y":{"field":"y","type":"quantitative"}}},
   {"data":{"name":"hist"},"transform":[{"filter":"datum.p=='T2' && datum.c=='r'"}],"mark":{"type":"line","color":"#e8383d","strokeWidth":1.1},"encoding":{"y":{"field":"y","type":"quantitative"}}},
   {"data":{"name":"gens"},"mark":{"type":"text","fontSize":17,"color":"#333","baseline":"middle"},"encoding":{"y":{"datum":93,"type":"quantitative"},"text":{"field":"g","type":"nominal"}}}
  ]}
],"spacing":8,"bounds":"flush"},
{"width":1,"height":201,"data":{"values":[{}]},"mark":{"type":"point","opacity":0},"encoding":{}},
{"width":602,"height":52,"data":{"values":[{"label":"CFSE"}]},
 "layer":[
  {"mark":{"type":"text","fontSize":23,"fontWeight":"bold","align":"left","baseline":"middle","color":"#000"},
   "encoding":{"x":{"datum":0,"type":"quantitative","scale":{"domain":[0,100]},"axis":null},"y":{"datum":48,"type":"quantitative","scale":{"domain":[0,100]},"axis":null},"text":{"field":"label"}}},
  {"mark":{"type":"rule","color":"#333","strokeWidth":1},"encoding":{"x":{"datum":11.3,"type":"quantitative"},"x2":{"datum":100},"y":{"datum":41,"type":"quantitative"}}},
  {"mark":{"type":"point","shape":"M-1,-0.6L0,0L-1,0.6","filled":false,"stroke":"#333","strokeWidth":1,"size":300,"opacity":1},"encoding":{"x":{"datum":100,"type":"quantitative"},"y":{"datum":41,"type":"quantitative"}}}
 ]},
{"hconcat":[
 {"width":30,"height":176,"data":{"values":[{}]},"mark":{"type":"point","opacity":0},"encoding":{},
  "title":{"text":"C","anchor":"start","frame":"group","fontSize":19,"fontWeight":"bold","color":"#000","baseline":"alphabetic","offset":6,"dx":-27,"dy":17}},
 {"width":178,"height":176,"title":{"text":"Unstimulated","fontSize":19,"fontWeight":"normal","color":"#222","frame":"group","offset":0,"dy":14,"dx":-6},
  "encoding":{"x":{"field":"gen","type":"quantitative","scale":{"domain":[-0.5,7.5],"nice":false,"zero":false},"axis":{"values":[0,1,2,3,4,5,6,7],"offset":10,"title":"CFSE Generation  #","titleFontSize":19,"titleFontWeight":"normal","titleColor":"#222","titlePadding":6,"labelFontSize":15,"labelColor":"#444","labelPadding":3,"tickSize":5,"tickColor":"#000","domainColor":"#000","domainWidth":2,"grid":false}},
   "y":{"field":"v","type":"quantitative","scale":{"domain":[0,60],"nice":false},"axis":{"values":[0,20,40,60],"offset":14,"title":"% Population","titleFontSize":17,"titleFontWeight":"bold","titleColor":"#000","titlePadding":16,"labelFontSize":12,"labelColor":"#555","labelPadding":2,"tickSize":4,"tickColor":"#000","domainColor":"#000","domainWidth":2,"grid":false}}},
  "layer":[
   {"data":{"name":"cfse"},"transform":[{"filter":"datum.p=='U' && datum.s=='S2'"}],"mark":{"type":"line","color":"#44bb44","strokeWidth":1.4}},
   {"data":{"name":"cfse"},"transform":[{"filter":"datum.p=='U' && datum.s=='S1'"}],"mark":{"type":"line","color":"#111","strokeWidth":1.3}},
   {"data":{"name":"cfse_err"},"transform":[{"filter":"datum.p=='U' && datum.s=='S2'"}],"mark":{"type":"rule","strokeWidth":1.5,"color":"#3cc43c"},"encoding":{"y":{"field":"lo","type":"quantitative"},"y2":{"field":"hi"}}},
   {"data":{"name":"cfse_err"},"transform":[{"filter":"datum.p=='U' && datum.s=='S2'"}],"mark":{"type":"tick","orient":"horizontal","size":8,"thickness":1.5,"color":"#3cc43c"},"encoding":{"y":{"field":"hi","type":"quantitative"}}},
   {"data":{"name":"cfse"},"transform":[{"filter":"datum.p=='U' && datum.s=='S2'"}],"mark":{"type":"point","filled":true,"size":100,"opacity":1,"color":"#3cc43c"}},
   {"data":{"name":"cfse_err"},"transform":[{"filter":"datum.p=='U' && datum.s=='S1'"}],"mark":{"type":"rule","strokeWidth":1.5,"color":"#111"},"encoding":{"y":{"field":"lo","type":"quantitative"},"y2":{"field":"hi"}}},
   {"data":{"name":"cfse_err"},"transform":[{"filter":"datum.p=='U' && datum.s=='S1'"}],"mark":{"type":"tick","orient":"horizontal","size":8,"thickness":1.5,"color":"#111"},"encoding":{"y":{"field":"hi","type":"quantitative"}}},
   {"data":{"name":"cfse"},"transform":[{"filter":"datum.p=='U' && datum.s=='S1'"}],"mark":{"type":"point","filled":true,"size":100,"opacity":1,"color":"#111"}}
  ]},
 {"width":49,"height":176,"data":{"values":[{}]},"mark":{"type":"point","opacity":0},"encoding":{}},
 {"width":178,"height":176,"title":{"text":"Senicapoc  (5 µM)","fontSize":19,"fontWeight":"normal","color":"#222","frame":"group","offset":0,"dy":14,"dx":-6},
  "encoding":{"x":{"field":"gen","type":"quantitative","scale":{"domain":[-0.5,7.5],"nice":false,"zero":false},"axis":{"values":[0,1,2,3,4,5,6,7],"offset":10,"title":"CFSE Generation  #","titleFontSize":19,"titleFontWeight":"normal","titleColor":"#222","titlePadding":6,"labelFontSize":15,"labelColor":"#444","labelPadding":3,"tickSize":5,"tickColor":"#000","domainColor":"#000","domainWidth":2,"grid":false}},
   "y":{"field":"v","type":"quantitative","scale":{"domain":[0,60],"nice":false},"axis":{"values":[0,20,40,60],"offset":14,"title":null,"labelFontSize":12,"labelColor":"#555","labelPadding":2,"tickSize":4,"tickColor":"#000","domainColor":"#000","domainWidth":2,"grid":false}}},
  "layer":[
   {"data":{"name":"cfse"},"transform":[{"filter":"datum.p=='S' && datum.s=='S2'"}],"mark":{"type":"line","color":"#44bb44","strokeWidth":1.4}},
   {"data":{"name":"cfse"},"transform":[{"filter":"datum.p=='S' && datum.s=='S1'"}],"mark":{"type":"line","color":"#111","strokeWidth":1.3}},
   {"data":{"name":"cfse_err"},"transform":[{"filter":"datum.p=='S' && datum.s=='S2'"}],"mark":{"type":"rule","strokeWidth":1.5,"color":"#3cc43c"},"encoding":{"y":{"field":"lo","type":"quantitative"},"y2":{"field":"hi"}}},
   {"data":{"name":"cfse_err"},"transform":[{"filter":"datum.p=='S' && datum.s=='S2'"}],"mark":{"type":"tick","orient":"horizontal","size":8,"thickness":1.5,"color":"#3cc43c"},"encoding":{"y":{"field":"hi","type":"quantitative"}}},
   {"data":{"name":"cfse"},"transform":[{"filter":"datum.p=='S' && datum.s=='S2'"}],"mark":{"type":"point","filled":true,"size":100,"opacity":1,"color":"#3cc43c"}},
   {"data":{"name":"cfse_err"},"transform":[{"filter":"datum.p=='S' && datum.s=='S1'"}],"mark":{"type":"rule","strokeWidth":1.5,"color":"#111"},"encoding":{"y":{"field":"lo","type":"quantitative"},"y2":{"field":"hi"}}},
   {"data":{"name":"cfse_err"},"transform":[{"filter":"datum.p=='S' && datum.s=='S1'"}],"mark":{"type":"tick","orient":"horizontal","size":8,"thickness":1.5,"color":"#111"},"encoding":{"y":{"field":"hi","type":"quantitative"}}},
   {"data":{"name":"cfse"},"transform":[{"filter":"datum.p=='S' && datum.s=='S1'"}],"mark":{"type":"point","filled":true,"size":100,"opacity":1,"color":"#111"}}
  ]},
 {"width":49,"height":176,"data":{"values":[{}]},"mark":{"type":"point","opacity":0},"encoding":{}},
 {"width":178,"height":176,"title":{"text":"TRAM-34 (5 µM)","fontSize":19,"fontWeight":"normal","color":"#222","frame":"group","offset":0,"dy":14,"dx":-6},
  "encoding":{"x":{"field":"gen","type":"quantitative","scale":{"domain":[-0.5,7.5],"nice":false,"zero":false},"axis":{"values":[0,1,2,3,4,5,6,7],"offset":10,"title":"CFSE Generation  #","titleFontSize":19,"titleFontWeight":"normal","titleColor":"#222","titlePadding":6,"labelFontSize":15,"labelColor":"#444","labelPadding":3,"tickSize":5,"tickColor":"#000","domainColor":"#000","domainWidth":2,"grid":false}},
   "y":{"field":"v","type":"quantitative","scale":{"domain":[0,80],"nice":false},"axis":{"values":[0,20,40,60,80],"offset":14,"title":null,"labelFontSize":12,"labelColor":"#555","labelPadding":2,"tickSize":4,"tickColor":"#000","domainColor":"#000","domainWidth":2,"grid":false}}},
  "layer":[
   {"data":{"name":"cfse"},"transform":[{"filter":"datum.p=='T' && datum.s=='S2'"}],"mark":{"type":"line","color":"#44bb44","strokeWidth":1.4}},
   {"data":{"name":"cfse"},"transform":[{"filter":"datum.p=='T' && datum.s=='S1'"}],"mark":{"type":"line","color":"#111","strokeWidth":1.3}},
   {"data":{"name":"cfse_err"},"transform":[{"filter":"datum.p=='T' && datum.s=='S2'"}],"mark":{"type":"rule","strokeWidth":1.5,"color":"#3cc43c"},"encoding":{"y":{"field":"lo","type":"quantitative"},"y2":{"field":"hi"}}},
   {"data":{"name":"cfse_err"},"transform":[{"filter":"datum.p=='T' && datum.s=='S2'"}],"mark":{"type":"tick","orient":"horizontal","size":8,"thickness":1.5,"color":"#3cc43c"},"encoding":{"y":{"field":"hi","type":"quantitative"}}},
   {"data":{"name":"cfse"},"transform":[{"filter":"datum.p=='T' && datum.s=='S2'"}],"mark":{"type":"point","filled":true,"size":100,"opacity":1,"color":"#3cc43c"}},
   {"data":{"name":"cfse_err"},"transform":[{"filter":"datum.p=='T' && datum.s=='S1'"}],"mark":{"type":"rule","strokeWidth":1.5,"color":"#111"},"encoding":{"y":{"field":"lo","type":"quantitative"},"y2":{"field":"hi"}}},
   {"data":{"name":"cfse_err"},"transform":[{"filter":"datum.p=='T' && datum.s=='S1'"}],"mark":{"type":"tick","orient":"horizontal","size":8,"thickness":1.5,"color":"#111"},"encoding":{"y":{"field":"hi","type":"quantitative"}}},
   {"data":{"name":"cfse"},"transform":[{"filter":"datum.p=='T' && datum.s=='S1'"}],"mark":{"type":"point","filled":true,"size":100,"opacity":1,"color":"#111"}}
  ]}
],"spacing":0,"bounds":"flush"}
]
}
